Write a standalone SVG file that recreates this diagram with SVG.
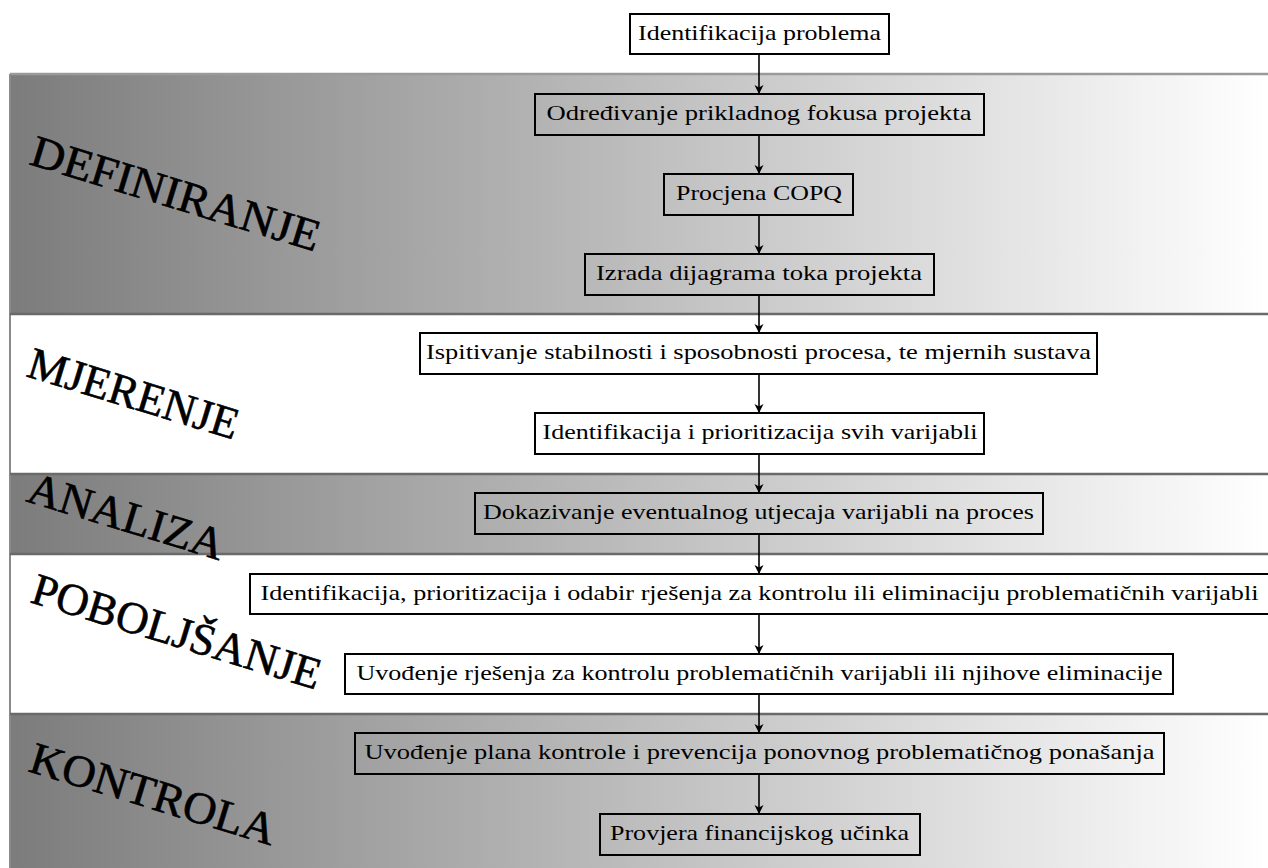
<svg xmlns="http://www.w3.org/2000/svg" width="1268" height="868" viewBox="0 0 1268 868">
<defs>
<linearGradient id="g" x1="10" y1="0" x2="1268" y2="0" gradientUnits="userSpaceOnUse">
<stop offset="0" stop-color="#7c7c7c"/>
<stop offset="1" stop-color="#ffffff"/>
</linearGradient>
<marker id="ah" viewBox="0 0 9 12" refX="9" refY="6" markerWidth="9" markerHeight="12" markerUnits="userSpaceOnUse" orient="auto">
<path d="M0,1.5 L9,6 L0,10.5 L2.5,6 z" fill="#000"/>
</marker>
<style>
.band{stroke:none}
.sep{stroke:#6a6a6a;stroke-width:2.5;fill:none}
.box{stroke:#000;stroke-width:2}
.bw{fill:#fff}
.bt{fill:none}
.t{font-family:"Liberation Serif","Times New Roman",serif;font-size:22px;fill:#000;text-anchor:middle}
.h{font-family:"Liberation Serif","Times New Roman",serif;font-size:45px;fill:#000;stroke:#000;stroke-width:0.6}
.c{stroke:#000;stroke-width:1.6;fill:none;marker-end:url(#ah)}
</style>
</defs>
<rect width="1268" height="868" fill="#fff"/>
<g id="bands">
<rect class="band" x="10" y="74" width="1270" height="240" fill="url(#g)"/>
<rect class="band" x="10" y="314" width="1270" height="160" fill="#fff"/>
<rect class="band" x="10" y="474" width="1270" height="80" fill="url(#g)"/>
<rect class="band" x="10" y="554" width="1270" height="160" fill="#fff"/>
<rect class="band" x="10" y="714" width="1270" height="160" fill="url(#g)"/>
<line x1="10" y1="74" x2="1268" y2="74" stroke="#9a9a9a" stroke-width="2.5"/>
<line x1="10" y1="74" x2="10" y2="868" stroke="#8a8a8a" stroke-width="2"/>
<line class="sep" x1="10" y1="314" x2="1268" y2="314"/>
<line class="sep" x1="10" y1="474" x2="1268" y2="474"/>
<line class="sep" x1="10" y1="554" x2="1268" y2="554"/>
<line class="sep" x1="10" y1="714" x2="1268" y2="714"/>
</g>
<g id="phases">
<text class="h" transform="translate(28,164) rotate(17)" textLength="300" lengthAdjust="spacingAndGlyphs">DEFINIRANJE</text>
<text class="h" transform="translate(25,376) rotate(17)" textLength="218" lengthAdjust="spacingAndGlyphs">MJERENJE</text>
<text class="h" transform="translate(25,501) rotate(17)" textLength="203" lengthAdjust="spacingAndGlyphs">ANALIZA</text>
<text class="h" transform="translate(29,602) rotate(17)" textLength="300" lengthAdjust="spacingAndGlyphs">POBOLJŠANJE</text>
<text class="h" transform="translate(27,771) rotate(17)" textLength="255" lengthAdjust="spacingAndGlyphs">KONTROLA</text>
</g>
<g id="connectors">
<line class="c" x1="759" y1="54" x2="759" y2="94"/>
<line class="c" x1="759" y1="135" x2="759" y2="174"/>
<line class="c" x1="759" y1="215" x2="759" y2="254"/>
<line class="c" x1="759" y1="295" x2="759" y2="333"/>
<line class="c" x1="759" y1="374" x2="759" y2="413"/>
<line class="c" x1="759" y1="454" x2="759" y2="493"/>
<line class="c" x1="759" y1="534" x2="759" y2="574"/>
<line class="c" x1="759" y1="614" x2="759" y2="654"/>
<line class="c" x1="759" y1="694" x2="759" y2="733"/>
<line class="c" x1="759" y1="774" x2="759" y2="814"/>
</g>
<g id="n1"><rect class="box bw" x="630" y="14" width="259" height="40"/><text class="t" x="759.5" y="40" textLength="243" lengthAdjust="spacingAndGlyphs">Identifikacija problema</text></g>
<g id="n2"><rect class="box bt" x="535" y="94" width="449" height="41"/><text class="t" x="759" y="120" textLength="425" lengthAdjust="spacingAndGlyphs">Određivanje prikladnog fokusa projekta</text></g>
<g id="n3"><rect class="box bt" x="664" y="174" width="189" height="41"/><text class="t" x="759" y="200" textLength="166" lengthAdjust="spacingAndGlyphs">Procjena COPQ</text></g>
<g id="n4"><rect class="box bt" x="585" y="254" width="349" height="41"/><text class="t" x="759" y="280" textLength="326" lengthAdjust="spacingAndGlyphs">Izrada dijagrama toka projekta</text></g>
<g id="n5"><rect class="box bw" x="420" y="333" width="677" height="41"/><text class="t" x="758.5" y="359" textLength="665" lengthAdjust="spacingAndGlyphs">Ispitivanje stabilnosti i sposobnosti procesa, te mjernih sustava</text></g>
<g id="n6"><rect class="box bw" x="535" y="413" width="449" height="41"/><text class="t" x="760" y="439" textLength="435" lengthAdjust="spacingAndGlyphs">Identifikacija i prioritizacija svih varijabli</text></g>
<g id="n7"><rect class="box bt" x="475" y="493" width="568" height="41"/><text class="t" x="758.5" y="519" textLength="551" lengthAdjust="spacingAndGlyphs">Dokazivanje eventualnog utjecaja varijabli na proces</text></g>
<g id="n8"><rect class="box bw" x="250" y="574" width="1022" height="40"/><text class="t" x="759.5" y="600" textLength="998" lengthAdjust="spacingAndGlyphs">Identifikacija, prioritizacija i odabir rješenja za kontrolu ili eliminaciju problematičnih varijabli</text></g>
<g id="n9"><rect class="box bw" x="345" y="654" width="828" height="40"/><text class="t" x="759.5" y="680" textLength="806" lengthAdjust="spacingAndGlyphs">Uvođenje rješenja za kontrolu problematičnih varijabli ili njihove eliminacije</text></g>
<g id="n10"><rect class="box bt" x="355" y="733" width="809" height="41"/><text class="t" x="759.5" y="759" textLength="790" lengthAdjust="spacingAndGlyphs">Uvođenje plana kontrole i prevencija ponovnog problematičnog ponašanja</text></g>
<g id="n11"><rect class="box bt" x="600" y="814" width="320" height="41"/><text class="t" x="759.5" y="840" textLength="299" lengthAdjust="spacingAndGlyphs">Provjera financijskog učinka</text></g>
</svg>
